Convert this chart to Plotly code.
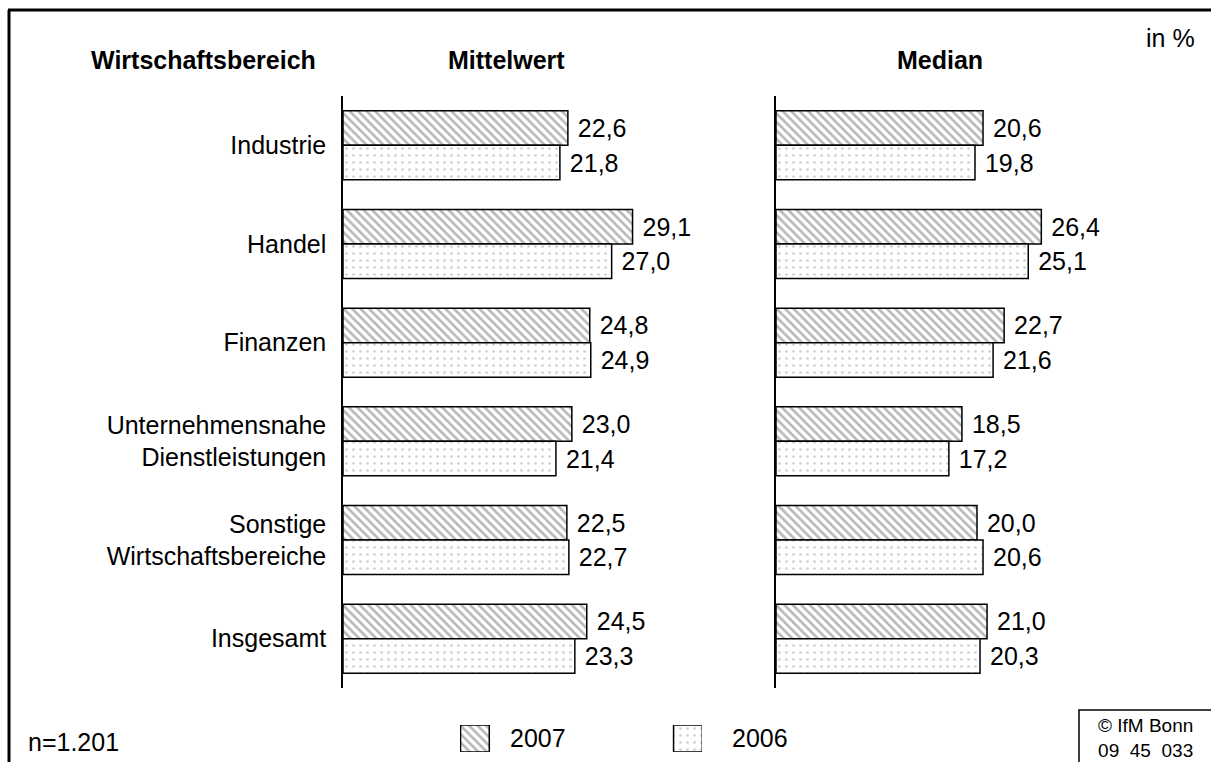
import plotly.graph_objects as go

bereiche = [
    "Industrie",
    "Handel",
    "Finanzen",
    "Unternehmensnahe<br>Dienstleistungen",
    "Sonstige<br>Wirtschaftsbereiche",
    "Insgesamt",
]
years = ["2007", "2006"]
mittelwert_2007 = [22.6, 29.1, 24.8, 23.0, 22.5, 24.5]
mittelwert_2006 = [21.8, 27.0, 24.9, 21.4, 22.7, 23.3]
median_2007 = [20.6, 26.4, 22.7, 18.5, 20.0, 21.0]
median_2006 = [19.8, 25.1, 21.6, 17.2, 20.6, 20.3]

W, H = 1211, 762
FONT = "Liberation Sans, Arial, sans-serif"


def px(x):
    return x / W


def py(y):
    return 1 - y / H


def fmt(vals):
    # leading nbsp gives the gap between bar end and label
    return ["\u00a0" + f"{v:.1f}".replace(".", ",") for v in vals]


patterns = {
    "2007": dict(shape="\\", fgcolor="#6e6e6e", bgcolor="white", size=6, solidity=0.42),
    "2006": dict(shape=".", fgcolor="#a0a0a0", bgcolor="white", size=7, solidity=0.12),
}

fig = go.Figure()

panels = [
    ("x", "y", {"2007": mittelwert_2007, "2006": mittelwert_2006}),
    ("x2", "y2", {"2007": median_2007, "2006": median_2006}),
]
for xa, ya, series in panels:
    for yr in years:
        fig.add_trace(
            go.Bar(
                y=bereiche,
                x=series[yr],
                orientation="h",
                name=yr,
                text=fmt(series[yr]),
                textposition="outside",
                textfont=dict(size=25, color="black", family=FONT),
                cliponaxis=False,
                marker=dict(
                    color="white",
                    pattern=patterns[yr],
                    line=dict(color="black", width=1.5),
                ),
                xaxis=xa,
                yaxis=ya,
                showlegend=False,
            )
        )

# legend swatches on a small hidden axis
for i, yr in enumerate(years):
    fig.add_trace(
        go.Bar(
            x=[i], y=[1], width=[0.135],
            marker=dict(color="white", pattern=patterns[yr], line=dict(color="black", width=1.5)),
            xaxis="x3", yaxis="y3", showlegend=False, hoverinfo="skip",
        )
    )

ydom = [py(688), py(96)]
axis_common = dict(showgrid=False, zeroline=False, showticklabels=False, ticks="")
fig.update_layout(
    width=W,
    height=H,
    margin=dict(l=0, r=0, t=0, b=0),
    paper_bgcolor="white",
    plot_bgcolor="white",
    font=dict(family=FONT, color="black", size=25),
    barmode="group",
    bargap=0.3,
    bargroupgap=0,
    xaxis=dict(domain=[px(343), px(343 + 36 * 9.95)], range=[0, 36], **axis_common),
    xaxis2=dict(domain=[px(776), px(776 + 36 * 10.05)], range=[0, 36], **axis_common),
    yaxis=dict(
        domain=ydom, autorange="reversed", showline=True, linecolor="black", linewidth=1.5,
        ticks="", showgrid=False, ticklabelstandoff=10, tickfont=dict(size=25, color="black"),
    ),
    yaxis2=dict(
        domain=ydom, autorange="reversed", showline=True, linecolor="black", linewidth=1.5,
        showticklabels=False, ticks="", showgrid=False, anchor="x2",
    ),
    xaxis3=dict(domain=[px(460), px(702)], range=[-0.07, 1.066], visible=False, anchor="y3"),
    yaxis3=dict(domain=[py(752), py(725)], range=[0, 1], visible=False, anchor="x3"),
)

ann = [
    ("Wirtschaftsbereich", 203, 60, True),
    ("Mittelwert", 507, 60, True),
    ("Median", 940, 60, True),
    ("in %", 1170, 38, False),
    ("n=1.201", 73, 742, False),
    (years[0], 538, 738, False),
    (years[1], 760, 738, False),
]
for text, x, y, bold in ann:
    fig.add_annotation(
        x=px(x), y=py(y), xref="paper", yref="paper", showarrow=False,
        text=f"<b>{text}</b>" if bold else text, xanchor="center", yanchor="middle",
        font=dict(size=25, color="black"),
    )
fig.add_annotation(
    x=px(1145), y=py(738), xref="paper", yref="paper", showarrow=False,
    text="© IfM Bonn<br>09  45  033", xanchor="center", yanchor="middle",
    font=dict(size=19, color="black"),
)

# frame lines and copyright box
fig.add_shape(type="line", xref="paper", yref="paper", x0=px(8), x1=1.0, y0=py(10), y1=py(10),
              line=dict(color="black", width=3))
fig.add_shape(type="line", xref="paper", yref="paper", x0=px(9), x1=px(9), y0=py(10), y1=0,
              line=dict(color="black", width=3))
fig.add_shape(type="rect", xref="paper", yref="paper", x0=px(1079), x1=px(1215), y0=py(710), y1=py(770),
              line=dict(color="black", width=1.5))

fig.write_html("out.html", config={"displayModeBar": False},
               post_script="document.body.style.margin='0';")
